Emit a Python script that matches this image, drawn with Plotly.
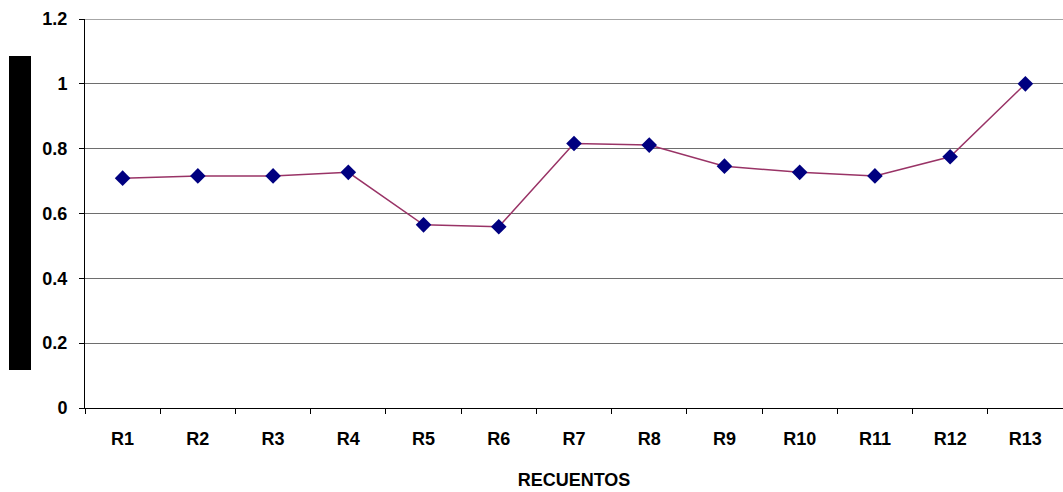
import plotly.graph_objects as go

# Recount ratios per round
categories = ["R1", "R2", "R3", "R4", "R5", "R6", "R7", "R8", "R9", "R10", "R11", "R12", "R13"]
values = [0.709, 0.716, 0.716, 0.727, 0.565, 0.559, 0.816, 0.811, 0.746, 0.727, 0.716, 0.775, 1.0]
y_ticks = [0, 0.2, 0.4, 0.6, 0.8, 1, 1.2]
y_tick_text = ["0", "0.2", "0.4", "0.6", "0.8", "1", "1.2"]
y_max = 1.2

FONT = "Liberation Sans, Arial, sans-serif"

fig = go.Figure()
fig.add_trace(go.Scatter(
    x=categories,
    y=values,
    mode="lines+markers",
    line=dict(color="#993366", width=1.5),
    marker=dict(symbol="diamond", size=12, color="#000080", line=dict(width=0)),
    showlegend=False,
))

W, H = 1063, 492
L, R, T, B = 85, 0, 19, 84
plot_w = W - L - R
plot_h = H - T - B

fig.update_layout(
    width=W,
    height=H,
    margin=dict(l=L, r=R, t=T, b=B, pad=0),
    paper_bgcolor="white",
    plot_bgcolor="white",
    font=dict(family=FONT, size=18, color="black"),
    xaxis=dict(
        type="category",
        range=[-0.5, 12.5],
        showgrid=False,
        showline=True,
        linecolor="black",
        linewidth=1,
        ticks="outside",
        tickson="boundaries",
        ticklen=5,
        tickcolor="black",
        tickfont=dict(family=FONT, size=18, color="black", weight="bold"),
        ticklabelstandoff=14,
        title=dict(text="<b>RECUENTOS</b>", font=dict(family=FONT, size=18), standoff=25),
    ),
    yaxis=dict(
        range=[0, y_max],
        tickvals=y_ticks,
        ticktext=y_tick_text,
        showgrid=True,
        gridcolor="#6e6e6e",
        gridwidth=1,
        zeroline=False,
        showline=True,
        linecolor="black",
        linewidth=1,
        ticks="outside",
        ticklen=5,
        tickcolor="black",
        tickfont=dict(family=FONT, size=18, color="black", weight="bold"),
        ticklabelstandoff=8,
    ),
)

# Lighter rule along the top of the plot area
fig.add_shape(
    type="line",
    xref="paper", yref="y",
    x0=0, x1=1, y0=y_max, y1=y_max,
    line=dict(color="#a6a6a6", width=2),
)

# Solid black block left of the value axis
fig.add_shape(
    type="rect",
    xref="paper", yref="paper",
    x0=(9 - L) / plot_w, x1=(31 - L) / plot_w,
    y0=(H - B - 370) / plot_h, y1=(H - B - 56) / plot_h,
    fillcolor="black", line=dict(width=0),
)

fig.write_html("out.html")
